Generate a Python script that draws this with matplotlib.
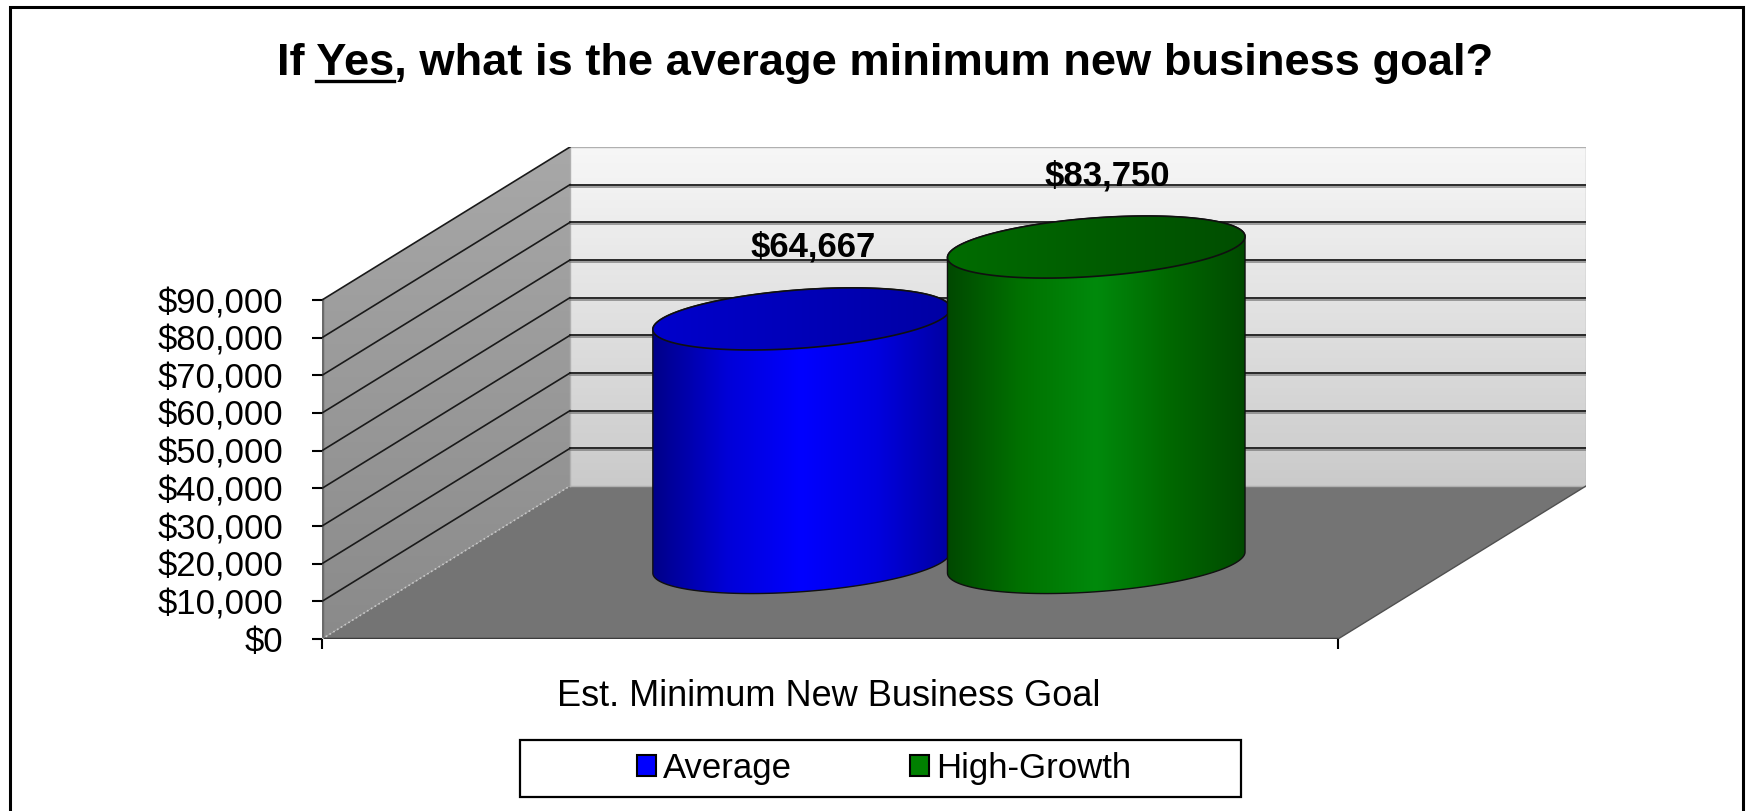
import numpy as np
import matplotlib
matplotlib.use('Agg')
import matplotlib.pyplot as plt
import matplotlib.patheffects as pe
from matplotlib.patches import Polygon, Rectangle, Patch
from matplotlib.colors import LinearSegmentedColormap
from matplotlib.ticker import FuncFormatter
from matplotlib.lines import Line2D

plt.rcParams['font.family'] = 'Liberation Sans'

# Data
series = ['Average', 'High-Growth']
values = [64667, 83750]
value_labels = ['$64,667', '$83,750']
category = 'Est. Minimum New Business Goal'
y_ticks = [0, 10000, 20000, 30000, 40000, 50000, 60000, 70000, 80000, 90000]
title = 'If Yes, what is the average minimum new business goal?'

# Canvas / 3D box geometry (pixels)
W, H = 1748, 811
x0_px, y0_px = 322, 639
front_w_px, front_h_px = 1016, 339
depth_dx_px, depth_dy_px = 248, 153
YMAX = 90000
DX = depth_dx_px / front_w_px
DY = depth_dy_px / front_h_px * YMAX


def proj(x, v, d):
    """oblique projection: x along category axis, v value, d depth 0..1"""
    return x + d * DX, v + d * DY


def grad_fill(ax, xs, ys, colors, direction, zorder):
    xs, ys = np.asarray(xs), np.asarray(ys)
    poly = Polygon(np.column_stack([xs, ys]), closed=True, facecolor='none',
                   edgecolor='none', zorder=zorder)
    ax.add_patch(poly)
    cmap = LinearSegmentedColormap.from_list('g', colors)
    ramp = np.linspace(0, 1, 256)
    arr = ramp[None, :] if direction == 'x' else ramp[:, None]
    im = ax.imshow(arr, cmap=cmap, origin='lower', aspect='auto',
                   interpolation='bilinear', zorder=zorder,
                   extent=(xs.min(), xs.max(), ys.min(), ys.max()))
    im.set_clip_path(poly)
    return poly


fig = plt.figure(figsize=(W / 100, H / 100), dpi=100)
ax = fig.add_axes([x0_px / W, 1 - y0_px / H,
                   (front_w_px + depth_dx_px) / W, (front_h_px + depth_dy_px) / H])

# walls and floor
bx, by = zip(*[proj(0, 0, 1), proj(1, 0, 1), proj(1, YMAX, 1), proj(0, YMAX, 1)])
grad_fill(ax, bx, by, ['#CACACA', '#F7F7F7'], 'y', 1)
ax.plot(bx + (bx[0],), by + (by[0],), color='#B0B0B0', lw=1, zorder=1.5)

lx, ly = zip(*[proj(0, 0, 0), proj(0, 0, 1), proj(0, YMAX, 1), proj(0, YMAX, 0)])
grad_fill(ax, lx, ly, ['#8A8A8A', '#A8A8A8'], 'y', 1)
ax.plot([0, 0], [0, YMAX], color='#6A6A6A', lw=2.5, zorder=1.5)

fx, fy = zip(*[proj(0, 0, 0), proj(1, 0, 0), proj(1, 0, 1), proj(0, 0, 1)])
ax.add_patch(Polygon(np.column_stack([fx, fy]), closed=True, facecolor='#747474',
                     edgecolor='none', zorder=1))
ax.plot(*zip(proj(1, 0, 0), proj(1, 0, 1)), color='#505050', lw=1, zorder=1.5)
ax.plot([0, 1], [0, 0], color='#3C3C3C', lw=2.5, solid_capstyle='butt', zorder=2)

# gridlines on back and side walls
shadow = [pe.SimpleLineShadow(offset=(0, -1.5), shadow_color='#707070', alpha=0.7),
          pe.Normal()]
for v in y_ticks[1:]:
    if v < YMAX:
        ax.plot(*zip(proj(0, v, 1), proj(1, v, 1)), color='#1A1A1A', lw=1.3,
                zorder=2, path_effects=shadow)
    ax.plot(*zip(proj(0, v, 0), proj(0, v, 1)), color='#1A1A1A', lw=1.2, zorder=2)
ax.plot(*zip(proj(0, 0, 0), proj(0, 0, 1)), color='#C8C8C8', lw=1.2, ls=':', zorder=2)

# cylinders
centers = [0.35, 0.64]
r_x = 140 / front_w_px
d_c, d_r = 0.5, 0.203
theta0 = np.arctan2(d_r * DX, r_x)
body_colors = [['#000088', '#0000D8', '#0000FF', '#0000E0', '#0000A0'],
               ['#004800', '#007200', '#008A0C', '#006800', '#004A00']]
top_colors = [['#0000CC', '#0000A4'], ['#006C00', '#004E00']]


def ring(cx, v, th):
    return proj(cx + r_x * np.cos(th), v, d_c + d_r * np.sin(th))


for i, (cx, v) in enumerate(zip(centers, values)):
    z = 3 + 2 * i
    bot_x, bot_y = ring(cx, 0, np.linspace(theta0 + np.pi, theta0 + 2 * np.pi, 120))
    top_x, top_y = ring(cx, v, np.linspace(theta0, theta0 + np.pi, 120))
    sx = np.concatenate([bot_x, top_x])
    sy = np.concatenate([bot_y, top_y])
    grad_fill(ax, sx, sy, body_colors[i], 'x', z)
    ax.add_patch(Polygon(np.column_stack([sx, sy]), closed=True, facecolor='none',
                         edgecolor='#101010', lw=1, zorder=z))
    ex, ey = ring(cx, v, np.linspace(0, 2 * np.pi, 240))
    grad_fill(ax, ex, ey, top_colors[i], 'x', z + 1)
    ax.add_patch(Polygon(np.column_stack([ex, ey]), closed=True, facecolor='none',
                         edgecolor='#101010', lw=1.2, zorder=z + 1))
    ax.annotate(value_labels[i], xy=proj(cx, v, d_c),
                xytext=(8, 51.5), textcoords='offset points', ha='center', va='center',
                fontsize=25, fontweight='bold', zorder=10)

ax.set_xlim(0, 1 + DX)
ax.set_ylim(0, YMAX + DY)

# axes decoration
for s in ax.spines.values():
    s.set_visible(False)
ax.patch.set_visible(False)
ax.set_yticks(y_ticks)
ax.yaxis.set_major_formatter(FuncFormatter(lambda v, _: f'${v:,.0f}'))
ax.tick_params(axis='y', length=7.2, width=1.5, pad=21, labelsize=25)
ax.set_xticks([0, 1])
ax.set_xticklabels([])
ax.tick_params(axis='x', length=7.2, width=1.5)
ax.set_xlabel(category, fontsize=26)
ax.xaxis.label.set_va('center')
ax.xaxis.set_label_coords((829 - x0_px) / (front_w_px + depth_dx_px),
                          -(697 - y0_px) / (front_h_px + depth_dy_px))

# title with underlined "Yes"
title_size = 32.6
t = fig.text(885 / W, 1 - 75 / H, title, ha='center', va='baseline',
             fontsize=title_size, fontweight='bold')
fig.canvas.draw()
renderer = fig.canvas.get_renderer()
tb = t.get_window_extent(renderer)
tmp1 = fig.text(0, 0, 'If Yes', fontsize=title_size, fontweight='bold')
tmp2 = fig.text(0, 0, 'Yes', fontsize=title_size, fontweight='bold')
w1 = tmp1.get_window_extent(renderer).width
w2 = tmp2.get_window_extent(renderer).width
tmp1.remove()
tmp2.remove()
uy = (H - 75 - 6) / H
fig.add_artist(Line2D([(tb.x0 + w1 - w2) / W, (tb.x0 + w1) / W], [uy, uy],
                      color='black', lw=2.4, transform=fig.transFigure))

# legend
fig.add_artist(Rectangle((520 / W, 1 - 797 / H), 721 / W, 57 / H, transform=fig.transFigure,
                         facecolor='white', edgecolor='black', lw=1.6))
handles = [Patch(facecolor='#0000FF', edgecolor='black', lw=1.5, label=series[0]),
           Patch(facecolor='#008000', edgecolor='black', lw=1.5, label=series[1])]
fig.legend(handles=handles, loc='center', bbox_to_anchor=(884 / W, 1 - 768.5 / H), ncol=2,
           frameon=False, fontsize=25, handlelength=0.55, handleheight=0.55,
           handletextpad=0.2, columnspacing=3.4)

# outer frame
fig.add_artist(Rectangle((10 / W, -0.05), 1733 / W, 0.05 + 804 / H, transform=fig.transFigure,
                         facecolor='none', edgecolor='black', lw=2.2))

fig.savefig('out.png', dpi=100)
